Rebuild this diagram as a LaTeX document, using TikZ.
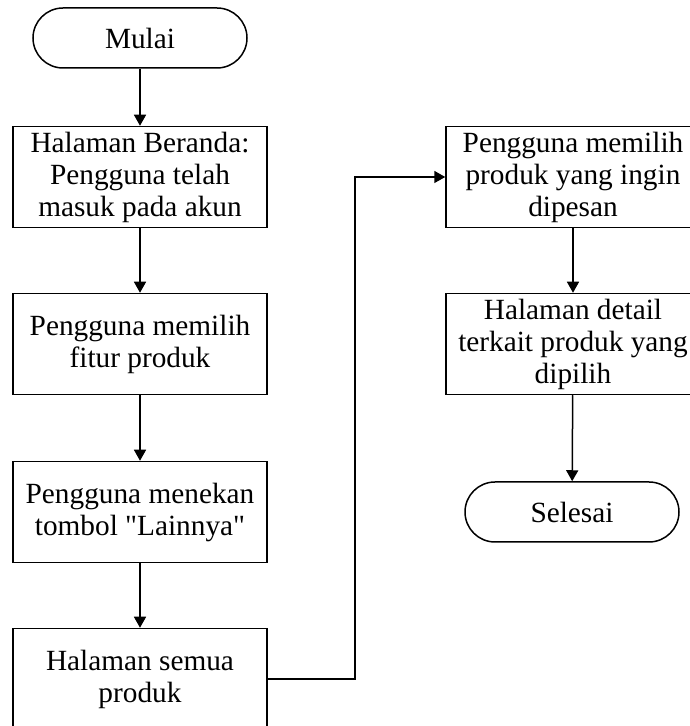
\documentclass[tikz,border=0pt]{standalone}
\usepackage{fontspec}
\setmainfont{Liberation Serif}
\usetikzlibrary{arrows.meta}

\begin{document}
\begin{tikzpicture}[x=1pt,y=1pt,
	box/.style={draw, line width=1.5pt, minimum width=254pt, minimum height=101pt, align=center, inner sep=0pt, font=\fontsize{29.3}{32}\selectfont},
	term/.style={box, rounded corners=30pt, minimum width=214pt, minimum height=60pt},
	flow/.style={line width=1.5pt, -{Triangle[width=12pt,length=11pt]}}]
	\useasboundingbox (0,0) rectangle (689,726);
	% kolom kiri
	\node[term] (M) at (140,688) {Mulai};
	\node[box] (B1) at (140,549) {Halaman Beranda:\\Pengguna telah\\masuk pada akun};
	\node[box] (B2) at (140,382) {Pengguna memilih\\fitur produk};
	\node[box] (B3) at (140,214) {Pengguna menekan\\tombol \textquotedbl Lainnya\textquotedbl};
	\node[box] (B4) at (140,47) {Halaman semua\\produk};
	% kolom kanan
	\node[box] (B5) at (573,549) {Pengguna memilih\\produk yang ingin\\dipesan};
	\node[box] (B6) at (573,382) {Halaman detail\\terkait produk yang\\dipilih};
	\node[term] (S) at (572,214) {Selesai};
	\coordinate (K) at (355,47);

	\draw[flow] (M)--(B1);
	\draw[flow] (B1)--(B2);
	\draw[flow] (B2)--(B3);
	\draw[flow] (B3)--(B4);
	\draw[flow] (B4.east)--(K)|-(B5.west);
	\draw[flow] (B5)--(B6);
	\draw[flow] (B6)--(S);
\end{tikzpicture}
\end{document}
